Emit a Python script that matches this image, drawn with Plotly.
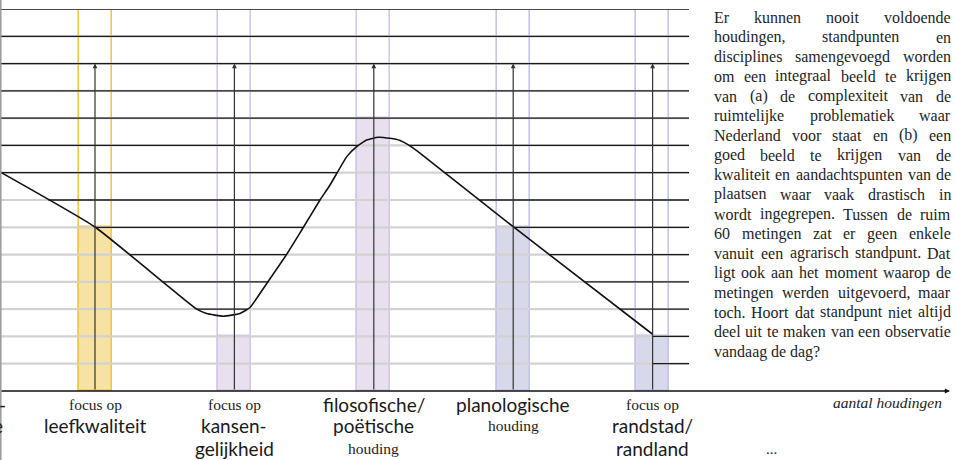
import numpy as np
import plotly.graph_objects as go

# ---------------- data ----------------
cat_pos = [1, 2, 3, 4, 5]
bar_values = [6, 2, 10, 6, 2]
bar_full = 14
arrow_top = 12
levels = list(range(1, 15))

curve_x = [0.3185, 1.0, 1.730, 1.801, 1.920, 2.040, 2.112, 2.232, 2.375, 2.483,
           2.614, 2.686, 2.806, 2.877, 2.949, 3.030, 3.116, 3.188, 3.248, 3.331,
           4.0, 5.0]
curve_y = [8.03, 6.01, 3.00, 2.84, 2.74, 2.84, 3.06, 3.94, 5.01, 5.90,
           7.00, 7.55, 8.59, 8.96, 9.20, 9.30, 9.26, 9.18, 9.02, 8.72,
           6.02, 2.08]

label_lines = [
    [("focus op", "serif"), ("leefkwaliteit", "sans")],
    [("focus op", "serif"), ("kansen-", "sans"), ("gelijkheid", "sans")],
    [("filosofische/", "sans"), ("poëtische", "sans"), ("houding", "serif")],
    [("planologische", "sans"), ("houding", "serif")],
    [("focus op", "serif"), ("randstad/", "sans"), ("randland", "sans")],
]

paragraph_lines = [
    "Er kunnen nooit voldoende",
    "houdingen, standpunten en",
    "disciplines samengevoegd worden",
    "om een integraal beeld te krijgen",
    "van (a) de complexiteit van de",
    "ruimtelijke problematiek waar",
    "Nederland voor staat en (b) een",
    "goed beeld te krijgen van de",
    "kwaliteit en aandachtspunten van de",
    "plaatsen waar vaak drastisch in",
    "wordt ingegrepen. Tussen de ruim",
    "60 metingen zat er geen enkele",
    "vanuit een agrarisch standpunt. Dat",
    "ligt ook aan het moment waarop de",
    "metingen werden uitgevoerd, maar",
    "toch. Hoort dat standpunt niet altijd",
    "deel uit te maken van een observatie",
    "vandaag de dag?",
]
axis_title = "aantal houdingen"

# ---------------- styles / layout ----------------
W, H = 955, 460
M_T, M_B = 9, 69
PLOT_H = H - M_T - M_B
PX_PER_U = 139.4
X0_PX = 95
xr0 = 1 - X0_PX / PX_PER_U
xr1 = xr0 + W / PX_PER_U
line_end = 1 + (689 - X0_PX) / PX_PER_U
axis_end = 1 + (950 - X0_PX) / PX_PER_U
bar_w = 33 / PX_PER_U

fill_cols = ["#f6e3a3", "#e8dfef", "#e8dfef", "#d8d8eb", "#d8d8eb"]
line_cols = ["#f2c744", "#d6c6e7", "#d6c6e7", "#c4c4e8", "#c4c4e8"]

SERIF = "Liberation Serif, Times New Roman, serif"
SANS = "Lato, Open Sans, sans-serif"
SANS_FS = 19


def py2paper(py):
    return (H - M_B - py) / PLOT_H


def px2paper(px):
    return px / W


fig = go.Figure()

# bar outlines (full height) and fills
fig.add_trace(go.Bar(x=cat_pos, y=[bar_full] * len(cat_pos), width=bar_w,
                     marker=dict(color="rgba(0,0,0,0)",
                                 line=dict(color=line_cols, width=1.6)),
                     hoverinfo="skip", showlegend=False))
fig.add_trace(go.Bar(x=cat_pos, y=bar_values, width=bar_w,
                     marker=dict(color=fill_cols,
                                 line=dict(color=line_cols, width=1.6)),
                     hoverinfo="skip", showlegend=False))

# light grey level lines
gx, gy = [], []
for lv in levels:
    gx += [xr0, line_end, None]
    gy += [lv, lv, None]
fig.add_trace(go.Scatter(x=gx, y=gy, mode="lines",
                         line=dict(color="#d2d2d2", width=2.2),
                         hoverinfo="skip", showlegend=False))

# black segments above the curve
ux = np.linspace(xr0, line_end, 6000)
cy = np.interp(ux, curve_x, curve_y)
bx, by = [], []
for lv in levels:
    mask = (cy < lv) | (ux >= curve_x[-1])
    idx = np.where(mask)[0]
    if len(idx) == 0:
        continue
    splits = np.where(np.diff(idx) > 1)[0]
    starts = np.concatenate(([idx[0]], idx[splits + 1]))
    ends = np.concatenate((idx[splits], [idx[-1]]))
    for s, e in zip(starts, ends):
        bx += [ux[s], ux[e], None]
        by += [lv, lv, None]
fig.add_trace(go.Scatter(x=bx, y=by, mode="lines",
                         line=dict(color="#1a1a1a", width=1.3),
                         hoverinfo="skip", showlegend=False))

# the curve
fig.add_trace(go.Scatter(x=curve_x, y=curve_y, mode="lines",
                         line=dict(color="#111111", width=1.6, shape="spline", smoothing=0.4),
                         hoverinfo="skip", showlegend=False))

annotations = []
# vertical arrows
for u in cat_pos:
    annotations.append(dict(x=u, y=arrow_top, ax=u, ay=0, xref="x", yref="y",
                            axref="x", ayref="y", text="", showarrow=True,
                            arrowhead=2, arrowsize=0.8, arrowwidth=1.2,
                            arrowcolor="#333333"))
# x axis arrow
annotations.append(dict(x=axis_end, y=0, ax=xr0, ay=0, xref="x", yref="y",
                        axref="x", ayref="y", text="", showarrow=True,
                        arrowhead=2, arrowsize=0.8, arrowwidth=1.3,
                        arrowcolor="#111111"))

# category labels
row_py = [404, 426, 448]
for u, lines in zip(cat_pos, label_lines):
    for i, (txt, st) in enumerate(lines):
        if st == "serif":
            font = dict(family=SERIF, size=15.5, color="#222222")
        else:
            font = dict(family=SANS, size=SANS_FS, color="#1a1a1a")
        annotations.append(dict(x=u, y=py2paper(row_py[i]), xref="x", yref="paper",
                                text=txt, showarrow=False, xanchor="center",
                                yanchor="middle", font=font))

# cut-off label fragments at the left edge
annotations.append(dict(x=px2paper(8), y=py2paper(404), xref="paper", yref="paper",
                        text="-", showarrow=False, xanchor="right", yanchor="middle",
                        font=dict(family=SANS, size=SANS_FS, color="#1a1a1a")))
annotations.append(dict(x=px2paper(5), y=py2paper(426), xref="paper", yref="paper",
                        text="e", showarrow=False, xanchor="right", yanchor="middle",
                        font=dict(family=SANS, size=SANS_FS, color="#1a1a1a")))

annotations.append(dict(x=px2paper(771), y=py2paper(449), xref="paper", yref="paper",
                        text="...", showarrow=False, xanchor="center", yanchor="middle",
                        font=dict(family=SERIF, size=15, color="#222222")))
annotations.append(dict(x=px2paper(944), y=py2paper(402), xref="paper", yref="paper",
                        text=f"<i>{axis_title}</i>", showarrow=False, xanchor="right",
                        yanchor="middle",
                        font=dict(family=SERIF, size=15.5, color="#222222")))

# justified paragraph (word by word)
TW = dict(a=444, b=500, c=444, d=500, e=444, f=333, g=500, h=500, i=278, j=278,
          k=500, l=278, m=778, n=500, o=500, p=500, q=500, r=333, s=389, t=278,
          u=500, v=500, w=722, x=500, y=500, z=444)
TW.update({"E": 611, "N": 722, "H": 722, "T": 611, "D": 722, ",": 250, ".": 250,
           "(": 333, ")": 333, "?": 444, " ": 250, "0": 500, "6": 500})
P_FS = 16
P_X0, P_X1 = 714, 951
P_Y0, P_DY = 17.5, 19.65


def tw(s):
    return sum(TW.get(ch, 500) for ch in s) * P_FS / 1000.0


pfont = dict(family=SERIF, size=P_FS, color="#1e1e1e")
for li, line in enumerate(paragraph_lines):
    words = line.split(" ")
    py = P_Y0 + li * P_DY
    widths = [tw(w) for w in words]
    if li == len(paragraph_lines) - 1 or len(words) == 1:
        gap = tw(" ")
    else:
        gap = (P_X1 - P_X0 - sum(widths)) / (len(words) - 1)
    xpos = P_X0
    for wi, (wd, wdw) in enumerate(zip(words, widths)):
        last_just = (wi == len(words) - 1 and li != len(paragraph_lines) - 1 and len(words) > 1)
        if last_just:
            annotations.append(dict(x=px2paper(P_X1), y=py2paper(py), xref="paper",
                                    yref="paper", text=wd, showarrow=False,
                                    xanchor="right", yanchor="middle", font=pfont,
                                    borderpad=0, borderwidth=0))
        else:
            annotations.append(dict(x=px2paper(xpos), y=py2paper(py), xref="paper",
                                    yref="paper", text=wd, showarrow=False,
                                    xanchor="left", yanchor="middle", font=pfont,
                                    borderpad=0, borderwidth=0))
        xpos += wdw + gap

shapes = [dict(type="line", xref="paper", yref="paper", x0=px2paper(0.8), x1=px2paper(0.8),
               y0=py2paper(H), y1=py2paper(0), line=dict(color="#9a9a9a", width=1.5))]

fig.update_layout(
    width=W, height=H,
    margin=dict(l=0, r=0, t=M_T, b=M_B, pad=0),
    paper_bgcolor="white", plot_bgcolor="white",
    barmode="overlay", bargap=0,
    xaxis=dict(range=[xr0, xr1], visible=False, fixedrange=True),
    yaxis=dict(range=[0, 14], visible=False, fixedrange=True),
    annotations=annotations, shapes=shapes,
    showlegend=False,
)

fig.write_html("out.html",
               config={"displayModeBar": False},
               post_script="document.body.style.margin='0px';"
                           "document.body.style.overflow='hidden';")
